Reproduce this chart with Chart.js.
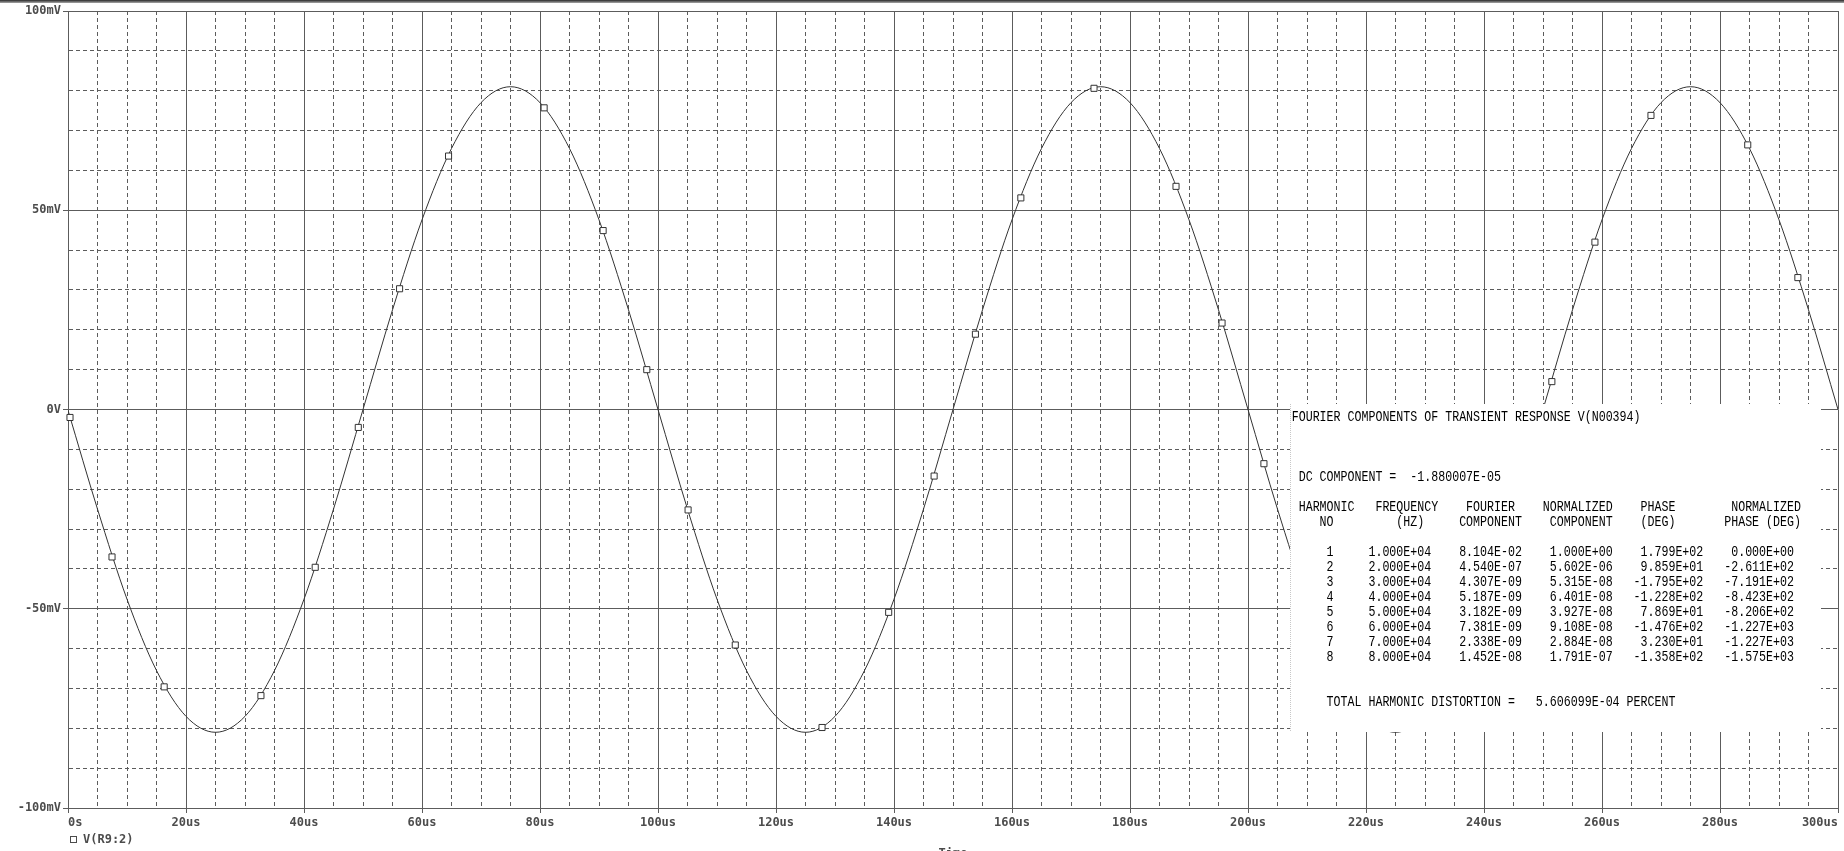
<!DOCTYPE html>
<html>
<head>
<meta charset="utf-8">
<title>V(R9:2) transient</title>
<script src="https://cdn.jsdelivr.net/npm/chart.js@4.4.1/dist/chart.umd.min.js"></script>
<style>
  html, body { margin: 0; padding: 0; background: #fff; }
  canvas { display: block; }
</style>
</head>
<body>
<canvas id="scope" width="1844" height="851"></canvas>
<script>
// trace V(R9:2), read every 5us (mV)
const timeUs = [0, 5, 10, 15, 20, 25, 30, 35, 40, 45, 50, 55, 60, 65, 70, 75, 80, 85, 90, 95,
  100, 105, 110, 115, 120, 125, 130, 135, 140, 145, 150, 155, 160, 165, 170, 175, 180, 185, 190, 195,
  200, 205, 210, 215, 220, 225, 230, 235, 240, 245, 250, 255, 260, 265, 270, 275, 280, 285, 290, 295, 300];
const traceMv = [-0.2, -25.0, -47.6, -65.5, -77.0, -81.0, -77.0, -65.5, -47.6, -25.0, 0.0, 25.0, 47.6, 65.5, 77.0, 81.0, 77.0, 65.5, 47.6, 25.0,
  0.0, -25.0, -47.6, -65.5, -77.0, -81.0, -77.0, -65.5, -47.6, -25.0, 0.0, 25.0, 47.6, 65.5, 77.0, 81.0, 77.0, 65.5, 47.6, 25.0,
  0.0, -25.0, -47.6, -65.5, -77.0, -81.0, -77.0, -65.5, -47.6, -25.0, 0.0, 25.0, 47.6, 65.5, 77.0, 81.0, 77.0, 65.5, 47.6, 25.0, 0.0];

// square markers the simulator puts on the trace
const markerUs = [0.34, 7.46, 16.3, 32.7, 41.9, 49.2, 56.2, 64.5, 80.7, 90.7, 98.1, 105.1, 113.1, 127.8,
  139.1, 146.8, 153.8, 161.5, 173.9, 187.8, 195.6, 202.7, 251.5, 258.8, 268.3, 284.7, 293.2];
const markerMv = [-2.0, -37.0, -69.6, -71.8, -39.6, -4.5, 30.3, 63.6, 75.7, 44.9, 10.0, -25.2, -59.1, -79.8,
  -50.9, -16.7, 18.9, 53.1, 80.6, 56.0, 21.7, -13.6, 7.0, 42.0, 73.8, 66.4, 33.1];

// axis labels
const xLabelValues = [0, 20, 40, 60, 80, 100, 120, 140, 160, 180, 200, 220, 240, 260, 280, 300];
const xLabels = ['0s', '20us', '40us', '60us', '80us', '100us', '120us', '140us', '160us', '180us',
  '200us', '220us', '240us', '260us', '280us', '300us'];
const yLabelValues = [100, 50, 0, -50, -100];
const yLabels = ['100mV', '50mV', '0V', '-50mV', '-100mV'];

// fourier analysis printout
const harmonicNo = [1, 2, 3, 4, 5, 6, 7, 8];
const freqHz = ['1.000E+04', '2.000E+04', '3.000E+04', '4.000E+04', '5.000E+04', '6.000E+04', '7.000E+04', '8.000E+04'];
const fourierComp = ['8.104E-02', '4.540E-07', '4.307E-09', '5.187E-09', '3.182E-09', '7.381E-09', '2.338E-09', '1.452E-08'];
const normComp = ['1.000E+00', '5.602E-06', '5.315E-08', '6.401E-08', '3.927E-08', '9.108E-08', '2.884E-08', '1.791E-07'];
const phaseDeg = ['1.799E+02', '9.859E+01', '-1.795E+02', '-1.228E+02', '7.869E+01', '-1.476E+02', '3.230E+01', '-1.358E+02'];
const normPhaseDeg = ['0.000E+00', '-2.611E+02', '-7.191E+02', '-8.423E+02', '-8.206E+02', '-1.227E+03', '-1.227E+03', '-1.575E+03'];
const dcComponent = '-1.880007E-05';
const thdPercent = '5.606099E-04';

const gridColor = '#5c5c5c';
const labelColor = '#4c4c4c';
const labelFont = { family: '"DejaVu Sans Mono", monospace', size: 12, weight: 'bold' };

// put strings at fixed character columns, like the text output file
function place(parts) {
  let s = '';
  parts.forEach(([col, text]) => { s = s.padEnd(col) + text; });
  return s;
}
function endAt(col, text) {
  text = String(text);
  return [col - text.length + 1, text];
}

function fourierLines() {
  const lines = [
    [0, place([[0, 'FOURIER COMPONENTS OF TRANSIENT RESPONSE V(N00394)']])],
    [4, place([[1, 'DC COMPONENT ='], [17, dcComponent]])],
    [6, place([[1, 'HARMONIC'], [12, 'FREQUENCY'], [25, 'FOURIER'], [36, 'NORMALIZED'], [50, 'PHASE'], [63, 'NORMALIZED']])],
    [7, place([[4, 'NO'], [15, '(HZ)'], [24, 'COMPONENT'], [37, 'COMPONENT'], [50, '(DEG)'], [62, 'PHASE (DEG)']])]
  ];
  harmonicNo.forEach((n, i) => {
    lines.push([9 + i, place([endAt(5, n), endAt(19, freqHz[i]), endAt(32, fourierComp[i]),
      endAt(45, normComp[i]), endAt(58, phaseDeg[i]), endAt(71, normPhaseDeg[i])])]);
  });
  lines.push([19, place([[5, 'TOTAL HARMONIC DISTORTION ='], [35, thdPercent], [48, 'PERCENT']])]);
  return lines;
}

const overlay = {
  id: 'overlay',
  afterDatasetsDraw(chart) {
    const { ctx, scales: { x, y } } = chart;
    const left = Math.round(x.getPixelForValue(207.2));
    const right = Math.round(x.getPixelForValue(297.1));
    const top = Math.round(y.getPixelForValue(1.4));
    const bottom = Math.round(y.getPixelForValue(-81.05));
    ctx.save();
    ctx.fillStyle = '#fff';
    ctx.fillRect(left, top, right - left, bottom - top);
    ctx.strokeStyle = '#c8c8c8';
    ctx.lineWidth = 1;
    ctx.setLineDash([1, 1]);
    ctx.beginPath();
    ctx.moveTo(left + 0.5, top);
    ctx.lineTo(left + 0.5, bottom);
    ctx.stroke();
    ctx.setLineDash([]);
    ctx.font = '11.63px "Liberation Mono", monospace';
    ctx.fillStyle = '#000';
    ctx.textBaseline = 'middle';
    fourierLines().forEach(([row, text]) => {
      // the printout font is taller than Courier, stretch it a little
      ctx.save();
      ctx.translate(left + 1.7, top + 13.8 + row * 15);
      ctx.scale(1, 1.2);
      ctx.fillText(text, 0, 0);
      ctx.restore();
    });
    ctx.restore();
  },
  afterDraw(chart) {
    const { ctx, chartArea } = chart;
    ctx.save();
    // window edge above the plot
    const g = ctx.createLinearGradient(0, 0, 0, 3);
    g.addColorStop(0, '#2a2a2a');
    g.addColorStop(1, '#a8a8a8');
    ctx.fillStyle = g;
    ctx.fillRect(0, 0, chart.width, 3);
    // trace legend
    ctx.strokeStyle = labelColor;
    ctx.lineWidth = 1;
    ctx.strokeRect(70.5, 836.5, 6, 6);
    ctx.fillStyle = labelColor;
    ctx.font = 'bold 12px "DejaVu Sans Mono", monospace';
    ctx.textBaseline = 'middle';
    ctx.fillText(chart.data.datasets[0].label, 83, 840);
    // axis title, cut by the window bottom
    ctx.textAlign = 'center';
    ctx.textBaseline = 'top';
    ctx.fillText('Time', (chartArea.left + chartArea.right) / 2, 848);
    ctx.restore();
  }
};

const isMajorX = v => v % 20 === 0;
const isMajorY = v => v % 50 === 0;

new Chart(document.getElementById('scope'), {
  type: 'line',
  data: {
    datasets: [
      {
        label: 'V(R9:2)',
        data: timeUs.map((t, i) => ({ x: t, y: traceMv[i] })),
        borderColor: '#333',
        borderWidth: 1,
        pointRadius: 0,
        cubicInterpolationMode: 'monotone',
        order: 2
      },
      {
        label: 'markers',
        data: markerUs.map((t, i) => ({ x: t, y: markerMv[i] })),
        showLine: false,
        pointStyle: 'rect',
        pointRadius: 4.3,
        pointBackgroundColor: '#fff',
        pointBorderColor: '#333',
        pointBorderWidth: 1,
        clip: 6,
        order: 1
      }
    ]
  },
  options: {
    responsive: false,
    animation: false,
    devicePixelRatio: 1,
    layout: { padding: { top: 11, right: 6, left: 0, bottom: 0 }, autoPadding: false },
    plugins: { legend: { display: false }, tooltip: { enabled: false } },
    scales: {
      x: {
        type: 'linear',
        min: 0,
        max: 300,
        afterFit: s => { s.height = 43; },
        ticks: {
          stepSize: 5,
          autoSkip: false,
          maxRotation: 0,
          align: 'inner',
          padding: 3,
          color: labelColor,
          font: labelFont,
          callback: v => {
            const i = xLabelValues.indexOf(v);
            return i >= 0 ? xLabels[i] : '';
          }
        },
        grid: {
          color: gridColor,
          lineWidth: 1,
          tickLength: 5,
          tickColor: c => (isMajorX(c.tick.value) ? gridColor : 'rgba(0,0,0,0)')
        },
        border: {
          color: gridColor,
          dash: c => (c.type === 'tick' && !isMajorX(c.tick.value) ? [4, 3] : [])
        }
      },
      y: {
        min: -100,
        max: 100,
        afterFit: s => { s.width = 68; },
        ticks: {
          stepSize: 10,
          autoSkip: false,
          padding: 2,
          color: labelColor,
          font: labelFont,
          callback: v => {
            const i = yLabelValues.indexOf(v);
            return i >= 0 ? yLabels[i] : '';
          }
        },
        grid: {
          color: gridColor,
          lineWidth: 1,
          tickLength: 5,
          tickColor: c => (isMajorY(c.tick.value) ? gridColor : 'rgba(0,0,0,0)')
        },
        border: {
          color: gridColor,
          dash: c => (c.type === 'tick' && !isMajorY(c.tick.value) ? [4, 3] : [])
        }
      }
    }
  },
  plugins: [overlay]
});
</script>
</body>
</html>
